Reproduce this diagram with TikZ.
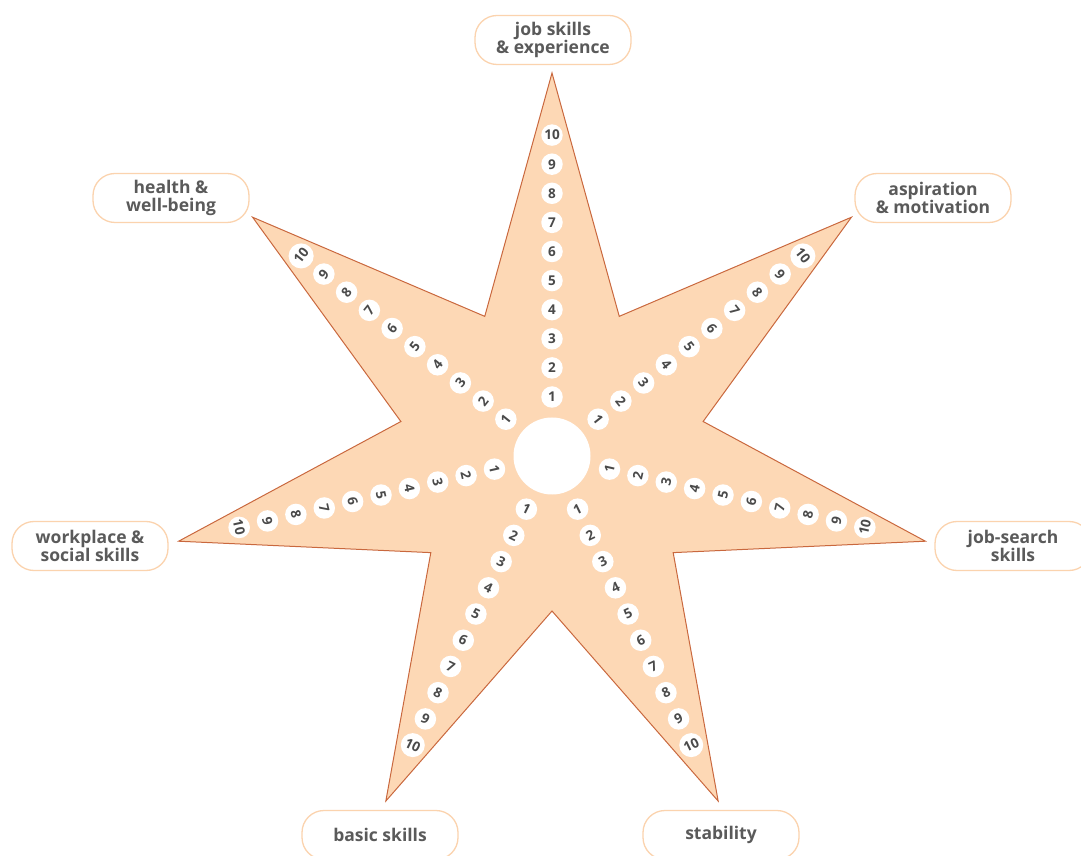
\documentclass[tikz,border=0pt]{standalone}
\usepackage{fontspec}
\setmainfont{Open Sans}
\usetikzlibrary{calc}
\begin{document}
\begin{tikzpicture}[x=1pt,y=1pt,
  starfill/.style={fill=peach,draw=starline,line width=1pt,line join=miter},
  numdot/.style={circle,fill=white,inner sep=0pt,minimum size=21.5pt,text=numgray,font=\fontsize{13.5}{14}\selectfont\bfseries},
  lbl/.style={draw=boxline,line width=1.3pt,fill=white,rounded corners=22pt,minimum width=156pt,minimum height=49pt,align=center,text=labgray,font=\fontsize{17.5}{18.5}\selectfont\bfseries,inner sep=1pt}]
\definecolor{peach}{HTML}{FDD8B5}
\definecolor{starline}{HTML}{C9683E}
\definecolor{boxline}{HTML}{FBD3AE}
\definecolor{numgray}{HTML}{4A4A4A}
\definecolor{labgray}{HTML}{5A5A5A}
\useasboundingbox (0,0) rectangle (1081,855);
\coordinate (c) at (552,399);
% star
\foreach \k in {0,...,6}{
  \coordinate (t\k) at ($(c)+({90-\k*360/7}:383)$);
  \coordinate (v\k) at ($(c)+({90-\k*360/7-180/7}:155)$);
}
\draw[starfill] (t0)--(v0)--(t1)--(v1)--(t2)--(v2)--(t3)--(v3)--(t4)--(v4)--(t5)--(v5)--(t6)--(v6)--cycle;
\node[circle,fill=white,minimum size=77pt,inner sep=0pt] (hub) at (c) {};
% numbers
\foreach \k/\rot in {0/0,1/-51.43,2/77.14,3/25.71,4/-25.71,5/-77.14,6/51.43}{
  \foreach \i in {1,...,10}{
    \node[numdot] (n\k-\i) at ($(c)+({90-\k*360/7}:{59+(\i-1)*29.1})$) {\rotatebox[origin=c]{\rot}{\i}};
  }
}
% labels
\node[lbl] (l0) at (553,815) {job skills\\\& experience};
\node[lbl] (l1) at (933,657) {aspiration\\\& motivation};
\node[lbl] (l2) at (1013,309) {job-search\\skills};
\node[lbl] (l3) at (721,20) {stability};
\node[lbl] (l4) at (380,20) {basic skills};
\node[lbl] (l5) at (90,309) {workplace \&\\social skills};
\node[lbl] (l6) at (171,657) {health \&\\well-being};
\end{tikzpicture}
\end{document}
